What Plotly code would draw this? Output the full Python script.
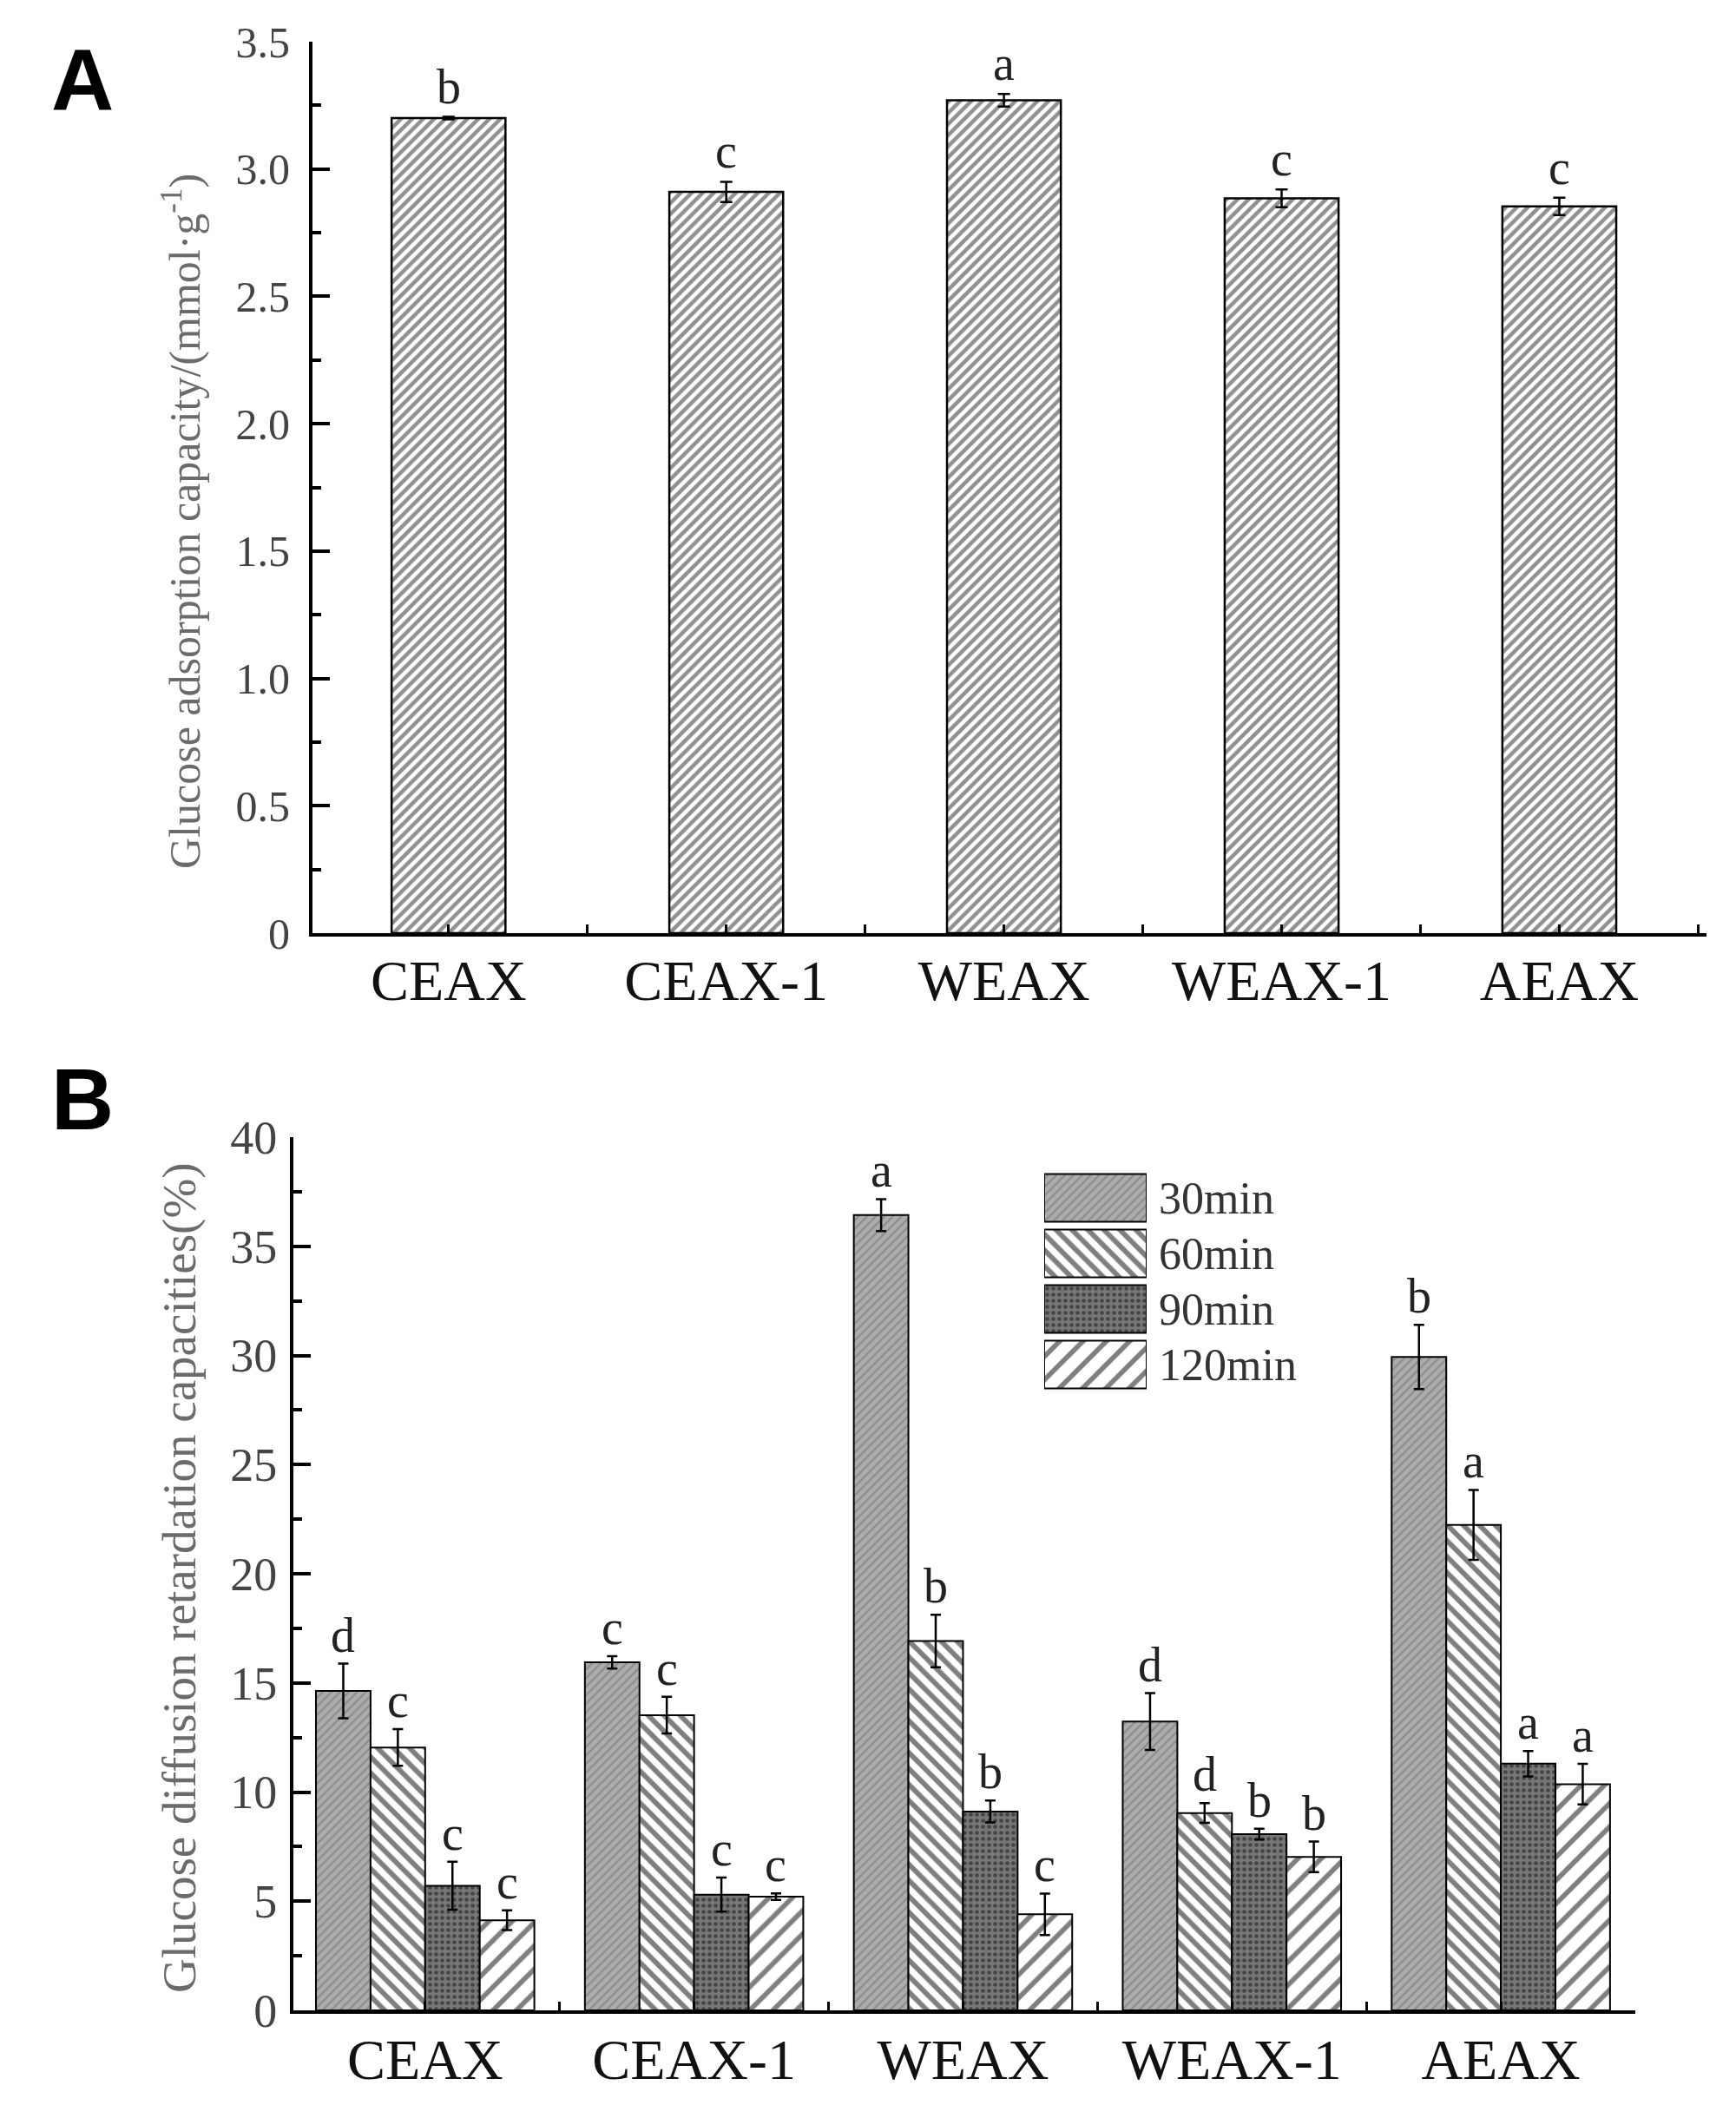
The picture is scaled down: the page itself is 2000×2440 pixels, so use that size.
import plotly.graph_objects as go

#%% DATOS
samples = ["CEAX", "CEAX-1", "WEAX", "WEAX-1", "AEAX"]

adsorption = [3.20, 2.91, 3.27, 2.885, 2.853]
adsorption_err = [0.005, 0.04, 0.025, 0.035, 0.034]
adsorption_letters = ["b", "c", "a", "c", "c"]

times = ["30min", "60min", "90min", "120min"]
retard_30 = [14.63, 15.94, 36.43, 13.23, 29.93]
retard_60 = [12.04, 13.52, 16.92, 9.04, 22.24]
retard_90 = [5.71, 5.30, 9.11, 8.07, 11.30]
retard_120 = [4.13, 5.21, 4.40, 7.03, 10.36]
err_30 = [1.25, 0.28, 0.73, 1.30, 1.47]
err_60 = [0.84, 0.84, 1.20, 0.45, 1.60]
err_90 = [1.10, 0.78, 0.50, 0.25, 0.58]
err_120 = [0.45, 0.15, 0.95, 0.70, 0.93]
letters_30 = ["d", "c", "a", "d", "b"]
letters_60 = ["c", "c", "b", "d", "a"]
letters_90 = ["c", "c", "b", "b", "a"]
letters_120 = ["c", "c", "c", "b", "a"]

a_ticks = [0, 0.5, 1.0, 1.5, 2.0, 2.5, 3.0, 3.5]
a_ticktext = ["0", "0.5", "1.0", "1.5", "2.0", "2.5", "3.0", "3.5"]
b_ticks = [0, 5, 10, 15, 20, 25, 30, 35, 40]

#%% ESTILOS
serif = "Liberation Serif"
W, H = 2000, 2440
OFF = 8  # margen del body de la pagina


def px_x(p):
    return (p - OFF) / W


def px_y(p):
    return 1 - (p - OFF) / H


patterns = [
    dict(shape="/", size=7, solidity=0.3, fgcolor="#6a6a6a", bgcolor="#acacac"),
    dict(shape="\\", size=13, solidity=0.45, fgcolor="black", bgcolor="white"),
    dict(shape=".", size=7, solidity=0.35, fgcolor="#111111", bgcolor="#777777"),
    dict(shape="/", size=19, solidity=0.3, fgcolor="black", bgcolor="white"),
]
series_b = [retard_30, retard_60, retard_90, retard_120]
errors_b = [err_30, err_60, err_90, err_120]
letters_b = [letters_30, letters_60, letters_90, letters_120]

pos = list(range(len(samples)))
fig = go.Figure()
annotations = []

# Panel A
bar_w_a = 0.41
fig.add_trace(go.Bar(
    x=pos, y=adsorption, width=bar_w_a, xaxis="x", yaxis="y",
    marker=dict(color="white", line=dict(color="black", width=2.5),
                pattern=dict(shape="/", size=9, solidity=0.5,
                             fgcolor="#222222", bgcolor="white")),
    error_y=dict(type="data", array=adsorption_err, color="black",
                 thickness=2.5, width=7),
    showlegend=False,
))
for i, s in enumerate(samples):
    annotations.append(dict(
        x=pos[i], y=adsorption[i] + adsorption_err[i], xref="x", yref="y",
        text=adsorption_letters[i], showarrow=False, yanchor="bottom", yshift=2,
        font=dict(family=serif, size=56, color="#222222")))

# Panel B
bar_w_b = 0.203
for k, t in enumerate(times):
    off = -2 * bar_w_b + k * bar_w_b
    fig.add_trace(go.Bar(
        x=pos, y=series_b[k], width=bar_w_b, offset=off, name=t,
        xaxis="x2", yaxis="y2",
        marker=dict(color=patterns[k]["bgcolor"],
                    line=dict(color="black", width=2), pattern=patterns[k]),
        error_y=dict(type="data", array=errors_b[k], color="black",
                     thickness=2.5, width=6),
        showlegend=False,
    ))
    for i in pos:
        annotations.append(dict(
            x=pos[i] + off + bar_w_b / 2, y=series_b[k][i] + errors_b[k][i],
            xref="x2", yref="y2", text=letters_b[k][i], showarrow=False,
            yanchor="bottom", yshift=0,
            font=dict(family=serif, size=56, color="#222222")))

# leyenda dibujada como barras horizontales
for k, t in enumerate(times):
    fig.add_trace(go.Bar(
        x=[1], y=[k], base=0, width=0.86, orientation="h",
        xaxis="x3", yaxis="y3",
        marker=dict(color=patterns[k]["bgcolor"],
                    line=dict(color="black", width=2), pattern=patterns[k]),
        showlegend=False, hoverinfo="skip",
    ))
    annotations.append(dict(
        x=1, y=k, xref="x3", yref="y3", text=t, showarrow=False,
        xanchor="left", xshift=12,
        font=dict(family=serif, size=52, color="#333333")))

# letras de panel y titulos de eje
annotations += [
    dict(x=px_x(95), y=px_y(92), xref="paper", yref="paper", text="<b>A</b>",
         xanchor="center", yanchor="middle", showarrow=False,
         font=dict(family="Liberation Sans", size=100, color="black")),
    dict(x=px_x(95), y=px_y(1266), xref="paper", yref="paper", text="<b>B</b>",
         xanchor="center", yanchor="middle", showarrow=False,
         font=dict(family="Liberation Sans", size=100, color="black")),
    dict(x=px_x(210), y=px_y(601), xref="paper", yref="paper", textangle=-90,
         xanchor="center", yanchor="middle", showarrow=False,
         text="Glucose adsorption capacity/(mmol·g<sup>-1</sup>)",
         font=dict(family=serif, size=50, color="#6b6b6b")),
    dict(x=px_x(206), y=px_y(1818), xref="paper", yref="paper", textangle=-90,
         xanchor="center", yanchor="middle", showarrow=False,
         text="Glucose diffusion retardation capacities(%)",
         font=dict(family=serif, size=55, color="#6b6b6b")),
]

xcommon = dict(
    tickmode="array", tickvals=pos, ticktext=samples, showline=True,
    linecolor="black", linewidth=4, ticks="inside", ticklen=10, tickwidth=3,
    tickcolor="black", showgrid=False, zeroline=False, automargin=False,
    tickfont=dict(family=serif, size=66, color="#111111"),
    minor=dict(tickmode="linear", tick0=0.5, dtick=1, ticks="inside",
               ticklen=10, tickwidth=3, tickcolor="black", showgrid=False),
)
ycommon = dict(
    showline=True, linecolor="black", linewidth=4, ticks="inside", ticklen=20,
    tickwidth=4, tickcolor="black", showgrid=False, zeroline=False,
    automargin=False,
)

fig.update_layout(
    width=W, height=H,
    margin=dict(l=0, r=0, t=0, b=0),
    plot_bgcolor="white", paper_bgcolor="white",
    barmode="overlay",
    xaxis=dict(xcommon, domain=[px_x(360), px_x(1966)], range=[-0.49, 4.53],
               anchor="y", ticklabelstandoff=-6),
    yaxis=dict(ycommon, domain=[px_y(1075), px_y(48)], range=[0, 3.5], anchor="x",
               tickmode="array", tickvals=a_ticks, ticktext=a_ticktext,
               ticklabelstandoff=12,
               tickfont=dict(family=serif, size=50, color="#444444"),
               minor=dict(tickmode="linear", tick0=0, dtick=0.25, ticks="inside",
                          ticklen=10, tickwidth=4, tickcolor="black")),
    xaxis2=dict(xcommon, domain=[px_x(338), px_x(1884)], range=[-0.49, 4.5],
                anchor="y2", ticklabelstandoff=-4),
    yaxis2=dict(ycommon, domain=[px_y(2316), px_y(1310)], range=[0, 40], anchor="x2",
                tickmode="array", tickvals=b_ticks, ticklabelstandoff=4,
                tickfont=dict(family=serif, size=54, color="#444444"),
                minor=dict(tickmode="linear", tick0=0, dtick=2.5, ticks="inside",
                           ticklen=10, tickwidth=4, tickcolor="black")),
    xaxis3=dict(domain=[px_x(1203), px_x(1321)], range=[0, 1], anchor="y3",
                visible=False, fixedrange=True),
    yaxis3=dict(domain=[px_y(1604), px_y(1348)], range=[3.5, -0.5], anchor="x3",
                visible=False, fixedrange=True),
    annotations=annotations,
)

fig.write_html("out.html")
